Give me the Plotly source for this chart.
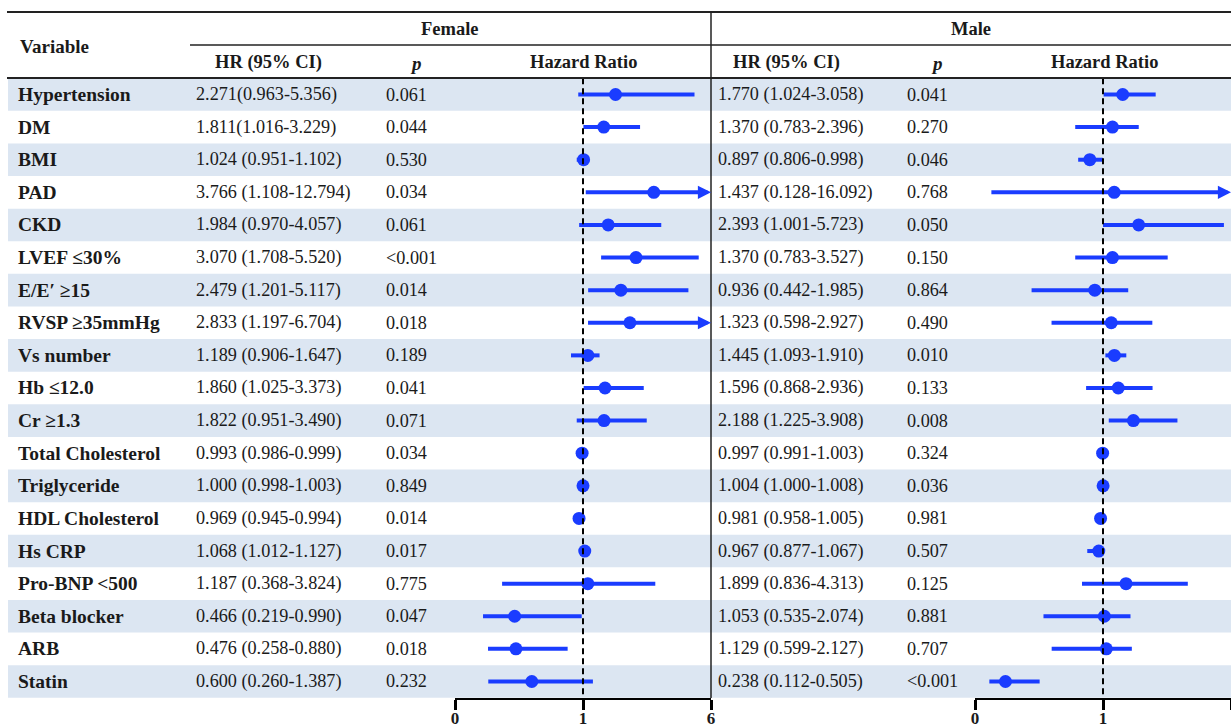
import plotly.graph_objects as go

# ---------------- data ----------------
variables = ["Hypertension", "DM", "BMI", "PAD", "CKD", "LVEF ≤30%", "E/E′ ≥15",
             "RVSP ≥35mmHg", "Vs number", "Hb ≤12.0", "Cr ≥1.3", "Total Cholesterol",
             "Triglyceride", "HDL Cholesterol", "Hs CRP", "Pro-BNP &lt;500",
             "Beta blocker", "ARB", "Statin"]

female_hr = [2.271, 1.811, 1.024, 3.766, 1.984, 3.070, 2.479, 2.833, 1.189, 1.860,
             1.822, 0.993, 1.000, 0.969, 1.068, 1.187, 0.466, 0.476, 0.600]
female_lo = [0.963, 1.016, 0.951, 1.108, 0.970, 1.708, 1.201, 1.197, 0.906, 1.025,
             0.951, 0.986, 0.998, 0.945, 1.012, 0.368, 0.219, 0.258, 0.260]
female_hi = [5.356, 3.229, 1.102, 12.794, 4.057, 5.520, 5.117, 6.704, 1.647, 3.373,
             3.490, 0.999, 1.003, 0.994, 1.127, 3.824, 0.990, 0.880, 1.387]
female_p = ["0.061", "0.044", "0.530", "0.034", "0.061", "&lt;0.001", "0.014", "0.018",
            "0.189", "0.041", "0.071", "0.034", "0.849", "0.014", "0.017", "0.775",
            "0.047", "0.018", "0.232"]
female_text = ["2.271(0.963-5.356)", "1.811(1.016-3.229)", "1.024 (0.951-1.102)",
               "3.766 (1.108-12.794)", "1.984 (0.970-4.057)", "3.070 (1.708-5.520)",
               "2.479 (1.201-5.117)", "2.833 (1.197-6.704)", "1.189 (0.906-1.647)",
               "1.860 (1.025-3.373)", "1.822 (0.951-3.490)", "0.993 (0.986-0.999)",
               "1.000 (0.998-1.003)", "0.969 (0.945-0.994)", "1.068 (1.012-1.127)",
               "1.187 (0.368-3.824)", "0.466 (0.219-0.990)", "0.476 (0.258-0.880)",
               "0.600 (0.260-1.387)"]

male_hr = [1.770, 1.370, 0.897, 1.437, 2.393, 1.370, 0.936, 1.323, 1.445, 1.596,
           2.188, 0.997, 1.004, 0.981, 0.967, 1.899, 1.053, 1.129, 0.238]
male_lo = [1.024, 0.783, 0.806, 0.128, 1.001, 0.783, 0.442, 0.598, 1.093, 0.868,
           1.225, 0.991, 1.000, 0.958, 0.877, 0.836, 0.535, 0.599, 0.112]
male_hi = [3.058, 2.396, 0.998, 16.092, 5.723, 3.527, 1.985, 2.927, 1.910, 2.936,
           3.908, 1.003, 1.008, 1.005, 1.067, 4.313, 2.074, 2.127, 0.505]
male_p = ["0.041", "0.270", "0.046", "0.768", "0.050", "0.150", "0.864", "0.490",
          "0.010", "0.133", "0.008", "0.324", "0.036", "0.981", "0.507", "0.125",
          "0.881", "0.707", "&lt;0.001"]
male_text = ["1.770 (1.024-3.058)", "1.370 (0.783-2.396)", "0.897 (0.806-0.998)",
             "1.437 (0.128-16.092)", "2.393 (1.001-5.723)", "1.370 (0.783-3.527)",
             "0.936 (0.442-1.985)", "1.323 (0.598-2.927)", "1.445 (1.093-1.910)",
             "1.596 (0.868-2.936)", "2.188 (1.225-3.908)", "0.997 (0.991-1.003)",
             "1.004 (1.000-1.008)", "0.981 (0.958-1.005)", "0.967 (0.877-1.067)",
             "1.899 (0.836-4.313)", "1.053 (0.535-2.074)", "1.129 (0.599-2.127)",
             "0.238 (0.112-0.505)"]

tick_values = [0, 1, 6]
AXIS_MAX = 6

# ---------------- layout constants ----------------
W, H = 1231, 724
ROW0, STEP, AXIS_Y = 94.5, 32.61, 698.0
BLUE = "#1a3cff"
BAND = "#dce6f2"
TXT = "#1a1a1a"
FONT = "Liberation Serif"


def scale(v):
    """Piecewise hazard-ratio scale: 0-1 on first half, 1-6 on second half."""
    v = min(v, AXIS_MAX)
    return v if v <= 1 else 1 + (v - 1) / (AXIS_MAX - 1)


def px(x):
    return x / W


def py(y):
    return 1 - y / H


n = len(variables)
rows = list(range(n))
y_top = (0 - ROW0) / STEP
y_bot = (AXIS_Y - ROW0) / STEP

fig = go.Figure()
ann = []

# CI lines + points
for hr, lo, hi, xa in [(female_hr, female_lo, female_hi, "x"),
                       (male_hr, male_lo, male_hi, "x2")]:
    xs, ys = [], []
    for i in rows:
        end = scale(hi[i])
        if hi[i] > AXIS_MAX:
            end -= 0.04
        xs += [scale(lo[i]), end, None]
        ys += [i, i, None]
    fig.add_trace(go.Scatter(x=xs, y=ys, mode="lines", xaxis=xa, yaxis="y",
                             line=dict(color=BLUE, width=4), cliponaxis=False,
                             hoverinfo="skip", showlegend=False))
    fig.add_trace(go.Scatter(x=[scale(v) for v in hr], y=rows, mode="markers",
                             xaxis=xa, yaxis="y", cliponaxis=False,
                             marker=dict(color=BLUE, size=13, line=dict(width=0)),
                             showlegend=False))
    for i in rows:
        if hi[i] > AXIS_MAX:
            ann.append(dict(x=scale(AXIS_MAX), y=i, ax=scale(AXIS_MAX) - 0.1, ay=i,
                            xref=xa, yref="y", axref=xa, ayref="y", text="",
                            showarrow=True, arrowhead=2, arrowsize=0.75,
                            arrowwidth=3.5, arrowcolor=BLUE, standoff=0))

shapes = []
# row bands
for i in rows:
    if i % 2 == 0:
        shapes.append(dict(type="rect", xref="paper", yref="y", x0=px(8), x1=1,
                           y0=i - 0.5, y1=i + 0.5, fillcolor=BAND, line=dict(width=0),
                           layer="below"))
# reference lines at HR = 1
for xa in ["x", "x2"]:
    shapes.append(dict(type="line", xref=xa, yref="y", x0=scale(1), x1=scale(1),
                       y0=-0.5, y1=y_bot, line=dict(color="black", width=2,
                                                     dash="6px,4px")))
# table rules
shapes.append(dict(type="line", xref="paper", yref="paper", x0=px(7), x1=1,
                   y0=py(12), y1=py(12), line=dict(color="#222", width=2)))
shapes.append(dict(type="line", xref="paper", yref="paper", x0=px(190), x1=1,
                   y0=py(45), y1=py(45), line=dict(color="#222", width=1.5)))
shapes.append(dict(type="line", xref="paper", yref="paper", x0=px(7), x1=1,
                   y0=py(78), y1=py(78), line=dict(color="#222", width=2)))
shapes.append(dict(type="line", xref="paper", yref="paper", x0=px(711), x1=px(711),
                   y0=py(12), y1=py(AXIS_Y), line=dict(color="#222", width=1.5)))

PAD = 3  # annotation inner padding compensation


def txt(x, y, s, size=18, bold=False, anchor="left", yref="y"):
    t = f"<b>{s}</b>" if bold else s
    if anchor == "left":
        x -= PAD
    ann.append(dict(x=px(x), y=y, xref="paper", yref=yref, text=t, showarrow=False,
                    xanchor=anchor, yanchor="middle",
                    font=dict(family=FONT, size=size, color=TXT)))


# headers
txt(21, py(46), "Variable", 19, True, yref="paper")
txt(450, py(29), "Female", 18.5, True, "center", yref="paper")
txt(971, py(29), "Male", 18.5, True, "center", yref="paper")
for x0, xp, xh in [(268, 416, 583), (786, 937, 1104)]:
    txt(x0, py(62), "HR (95% CI)", 18.5, True, "center", yref="paper")
    txt(xp, py(63), "<i>p</i>", 19, True, "center", yref="paper")
    txt(xh, py(62), "Hazard Ratio", 18.5, True, "center", yref="paper")

for i in rows:
    txt(19, i, variables[i], 19.5, True)
    txt(197, i, female_text[i], 18.2)
    txt(387, i, female_p[i], 18.2)
    txt(719, i, male_text[i], 18.2)
    txt(908, i, male_p[i], 18.2)

axis_common = dict(range=[0, 2], tickvals=[scale(v) for v in tick_values],
                   ticktext=[f"<b>{v}</b>" for v in tick_values], showgrid=False,
                   zeroline=False, showline=True, linecolor="black", linewidth=2,
                   ticks="outside", ticklen=10, tickwidth=2.5, tickcolor="black",
                   ticklabelstandoff=-6,
                   tickfont=dict(family=FONT, size=17, color=TXT),
                   anchor="y", fixedrange=True, automargin=False)

fig.update_layout(
    width=W, height=H, margin=dict(l=0, r=0, t=0, b=0, autoexpand=False),
    paper_bgcolor="white", plot_bgcolor="rgba(0,0,0,0)",
    xaxis=dict(domain=[px(455), px(711)], **axis_common),
    xaxis2=dict(domain=[px(975), 1.0], **axis_common),
    yaxis=dict(domain=[(H - AXIS_Y) / H, 1], range=[y_bot, y_top], visible=False,
               fixedrange=True, automargin=False),
    shapes=shapes, annotations=ann, showlegend=False,
)

fig.write_html("out.html", config={"displayModeBar": False},
               post_script="document.body.style.margin='0px';"
                           "document.body.style.overflow='hidden';")
